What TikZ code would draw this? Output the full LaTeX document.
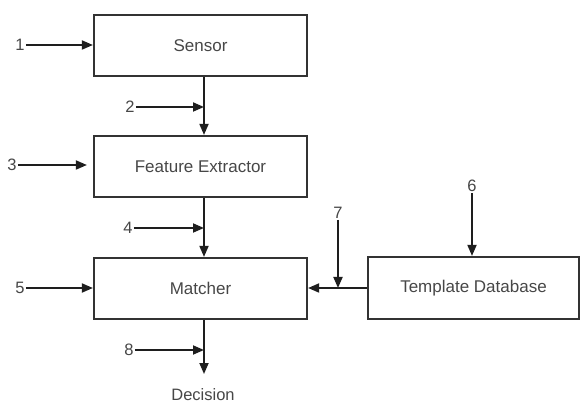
\documentclass[tikz,border=0pt]{standalone}
\usepackage{fontspec}
\setmainfont{Liberation Sans}
\usetikzlibrary{arrows.meta,calc}
\definecolor{boxc}{HTML}{333333}
\definecolor{linec}{HTML}{1E1E1E}
\definecolor{txt}{HTML}{474747}
\begin{document}
\begin{tikzpicture}[x=1pt,y=-1pt,
  box/.style={draw=boxc,line width=2.2pt,minimum width=213pt,minimum height=61pt,inner sep=0pt,text=txt,font=\fontsize{17}{19}\selectfont},
  lab/.style={text=txt,font=\fontsize{16.5}{18}\selectfont,inner sep=1pt},
  arr/.style={draw=linec,line width=1.8pt,-{Triangle[length=11pt,width=9pt]}},
  link/.style={draw=linec,line width=1.8pt}]
\useasboundingbox[fill=white] (0,0) rectangle (581,403);
% boxes
\node[box] (sensor) at (200.5,45.5) {Sensor};
\node[box] (fe) at (200.5,166.5) {Feature Extractor};
\node[box] (matcher) at (200.5,288.5) {Matcher};
\node[box,minimum width=211pt,minimum height=62pt] (tdb) at (473.5,288) {Template Database};
% column of the main flow
\coordinate (col) at (204,0);
\coordinate (dend) at (204,374);
% labels
\node[lab] (l1) at (20,45) {1};
\node[lab] (l2) at (130,107) {2};
\node[lab] (l3) at (12,165) {3};
\node[lab] (l4) at (128,228) {4};
\node[lab] (l5) at (20,288) {5};
\node[lab] (l6) at (472,186) {6};
\node[lab] (l7) at (338,213) {7};
\node[lab] (l8) at (129,350) {8};
\node[lab] (dec) at (203,395) {Decision};
% main flow
\draw[arr] (sensor.south -| col) -- (fe.north -| col);
\draw[arr] (fe.south -| col) -- (matcher.north -| col);
\draw[arr] (matcher.south -| col) -- (dend);
% inputs
\draw[arr] (l1.east) -- (l1.east -| sensor.west);
\draw[arr] (l2.east) -- (l2.east -| col);
\draw[arr,shorten >=6pt] (l3.east) -- (l3.east -| fe.west);
\draw[arr] (l4.east) -- (l4.east -| col);
\draw[arr] (l5.east) -- (l5.east -| matcher.west);
\draw[arr] (l8.east) -- (l8.east -| col);
\draw[arr] (l6.south) -- (l6.south |- tdb.north);
\draw[arr] (l7.south) -- (l7.south |- tdb.west);
\draw[arr] (tdb.west) -- (tdb.west -| matcher.east);
\end{tikzpicture}
\end{document}
